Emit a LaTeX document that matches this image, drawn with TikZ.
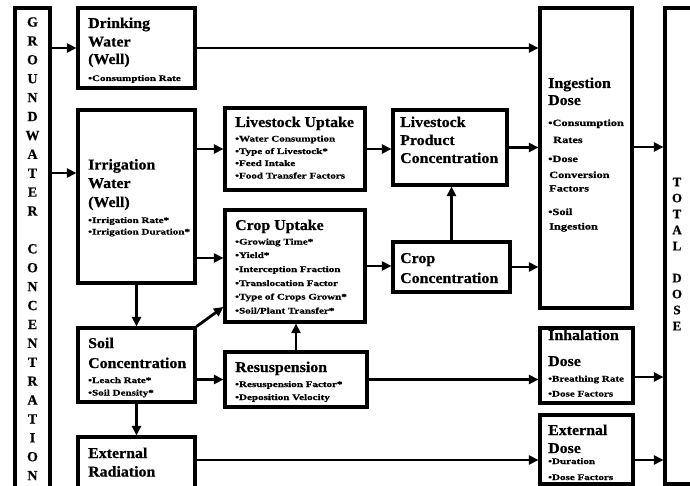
\documentclass[tikz,border=0pt]{standalone}
\usepackage{fontspec}
\setmainfont{Liberation Serif}
\newfontfamily\hdfont{Liberation Serif}[FakeStretch=1.06, FakeBold=0.6]
\newfontfamily\itfont{Liberation Serif}[FakeStretch=1.3, FakeBold=0.8]
\newfontfamily\capfont{Liberation Serif}[FakeBold=0.6]
\usetikzlibrary{arrows.meta,fit}

\tikzset{
  box/.style={draw, line width=3.1pt, inner sep=0pt},
  conn/.style={line width=2.8pt, -{Triangle[length=9.5pt,width=9pt]}},
  ttl/.style={anchor=base west, inner sep=0pt, font=\hdfont\bfseries\fontsize{15}{18}\selectfont},
  itm/.style={anchor=base west, inner sep=0pt, font=\itfont\bfseries\fontsize{8.5}{10}\selectfont},
  itmL/.style={anchor=base west, inner sep=0pt, font=\itfont\bfseries\fontsize{9.5}{11}\selectfont},
  vlet/.style={anchor=base, inner sep=0pt, font=\capfont\bfseries\fontsize{14}{16}\selectfont},
  tlet/.style={anchor=base, inner sep=0pt, font=\capfont\bfseries\fontsize{13}{15}\selectfont},
}

\begin{document}
\begin{tikzpicture}[x=1pt,y=-1pt]
\useasboundingbox (0,0) rectangle (690,486);
\fill[white] (0,0) rectangle (690,486);
\clip (0,0) rectangle (690,486);

% ---- boxes ----
\node[box, fit={(15,8) (50,520)}] (gw) {};
\node[box, fit={(78,8) (195,88)}] (dw) {};
\node[box, fit={(78,110) (195,283)}] (iw) {};
\node[box, fit={(225,108) (365,190)}] (lu) {};
\node[box, fit={(393,110) (507,185)}] (lpc) {};
\node[box, fit={(225,210) (365,322)}] (cu) {};
\node[box, fit={(393,242) (510,292)}] (cc) {};
\node[box, fit={(78,328) (195,402)}] (soil) {};
\node[box, fit={(225,352) (367,407)}] (res) {};
\node[box, fit={(78,437) (195,520)}] (er) {};
\node[box, fit={(540,8) (632,308)}] (ing) {};
\node[box, fit={(540,328) (633,403)}] (inh) {};
\node[box, fit={(540,415) (633,484)}] (ed) {};
\node[box, fit={(665,8) (720,484)}] (td) {};

% ---- vertical captions ----
\foreach \c [count=\k from 0] in {G,R,O,U,N,D,W,A,T,E,R}
  \node[vlet] (gwl\k) at (32.5,{26.6+18.9*\k}) {\c};
\foreach \c [count=\k from 12] in {C,O,N,C,E,N,T,R,A,T,I,O,N}
  \node[vlet] (gwl\k) at (32.5,{26.6+18.9*\k}) {\c};
\foreach \c [count=\k from 0] in {T,O,T,A,L}
  \node[tlet] (tdl\k) at (677,{186.3+16*\k}) {\c};
\foreach \c [count=\k from 6] in {D,O,S,E}
  \node[tlet] (tdl\k) at (677,{186.3+16*\k}) {\c};

% ---- box texts ----
\node[ttl] (dw1) at (88,28) {Drinking};
\node[ttl] (dw2) at (88,46.5) {Water};
\node[ttl] (dw3) at (88,64) {(Well)};
\node[itm] (dw4) at (88,81) {•Consumption Rate};

\node[ttl] (iw1) at (88,169.5) {Irrigation};
\node[ttl] (iw2) at (88,188) {Water};
\node[ttl] (iw3) at (88,207) {(Well)};
\node[itm] (iw4) at (88,223) {•Irrigation Rate*};
\node[itm] (iw5) at (88,234.5) {•Irrigation Duration*};

\node[ttl] (lu1) at (235,127) {Livestock Uptake};
\node[itm] (lu2) at (235,141.5) {•Water Consumption};
\node[itm] (lu3) at (235,154) {•Type of Livestock*};
\node[itm] (lu4) at (235,166) {•Feed Intake};
\node[itm] (lu5) at (235,178.5) {•Food Transfer Factors};

\node[ttl] (lpc1) at (400,127) {Livestock};
\node[ttl] (lpc2) at (400,145) {Product};
\node[ttl] (lpc3) at (400,163) {Concentration};

\node[ttl] (cu1) at (235,230) {Crop Uptake};
\node[itm] (cu2) at (235,244.5) {•Growing Time*};
\node[itm] (cu3) at (235,258) {•Yield*};
\node[itm] (cu4) at (235,272) {•Interception Fraction};
\node[itm] (cu5) at (235,286) {•Translocation Factor};
\node[itm] (cu6) at (235,299.5) {•Type of Crops Grown*};
\node[itm] (cu7) at (235,313.5) {•Soil/Plant Transfer*};

\node[ttl] (cc1) at (400,263) {Crop};
\node[ttl] (cc2) at (400,283) {Concentration};

\node[ttl] (so1) at (88,348) {Soil};
\node[ttl] (so2) at (88,368) {Concentration};
\node[itm] (so3) at (88,383) {•Leach Rate*};
\node[itm] (so4) at (88,395.5) {•Soil Density*};

\node[ttl] (re1) at (235,372) {Resuspension};
\node[itm] (re2) at (235,387) {•Resuspension Factor*};
\node[itm] (re3) at (235,400) {•Deposition Velocity};

\node[ttl] (er1) at (88,458) {External};
\node[ttl] (er2) at (88,476.5) {Radiation};

\node[ttl] (in1) at (548,88) {Ingestion};
\node[ttl] (in2) at (548,105) {Dose};
\node[itmL] (in3) at (548,126) {•Consumption};
\node[itmL] (in4) at (553,143) {Rates};
\node[itmL] (in5) at (548,162) {•Dose};
\node[itmL] (in6) at (549,178) {Conversion};
\node[itmL] (in7) at (549,191.5) {Factors};
\node[itmL] (in8) at (548,215) {•Soil};
\node[itmL] (in9) at (549,229.5) {Ingestion};

\node[ttl] (ih1) at (548,340) {Inhalation};
\node[ttl] (ih2) at (548,366) {Dose};
\node[itm] (ih3) at (548,381.5) {•Breathing Rate};
\node[itm] (ih4) at (548,396.5) {•Dose Factors};

\node[ttl] (ed1) at (548,435) {External};
\node[ttl] (ed2) at (548,453) {Dose};
\node[itm] (ed3) at (548,464) {•Duration};
\node[itm] (ed4) at (548,480) {•Dose Factors};

% ---- connector end points ----
\coordinate (iwin) at ([yshift=23.5pt]iw.west);
\coordinate (cuin) at ([yshift=8pt]cu.west);
\coordinate (cudiag) at ([yshift=-41pt]cu.west);
\coordinate (edin) at ([yshift=-10.5pt]ed.west);
\coordinate (ingout) at ([yshift=11pt]ing.east);
\coordinate (inhout) at ([yshift=-11.5pt]inh.east);
\coordinate (edout) at ([yshift=-10.5pt]ed.east);

% ---- connectors ----
\draw[conn] (gw.east |- dw.west) -- (dw.west);
\draw[conn] (gw.east |- iwin) -- (iwin);
\draw[conn] (dw.east) -- (dw.east -| ing.west);
\draw[conn] (lu.west -| iw.east) -- (lu.west);
\draw[conn] (cuin -| iw.east) -- (cuin);
\draw[conn] (lu.east) -- (lu.east -| lpc.west);
\draw[conn] (lpc.east) -- (lpc.east -| ing.west);
\draw[conn] (cu.east) -- (cu.east -| cc.west);
\draw[conn] (cc.east) -- (cc.east -| ing.west);
\draw[conn] (cc.north) -- (cc.north |- lpc.south);
\draw[conn] (iw.south) -- (iw.south |- soil.north);
\draw[conn] (soil.north east) -- (cudiag);
\draw[conn] (res.west -| soil.east) -- (res.west);
\draw[conn] (res.north) -- (res.north |- cu.south);
\draw[conn] (res.east) -- (res.east -| inh.west);
\draw[conn] (soil.south) -- (soil.south |- er.north);
\draw[conn] (edin -| er.east) -- (edin);
\draw[conn] (ingout) -- (ingout -| td.west);
\draw[conn] (inhout) -- (inhout -| td.west);
\draw[conn] (edout) -- (edout -| td.west);
\end{tikzpicture}
\end{document}
